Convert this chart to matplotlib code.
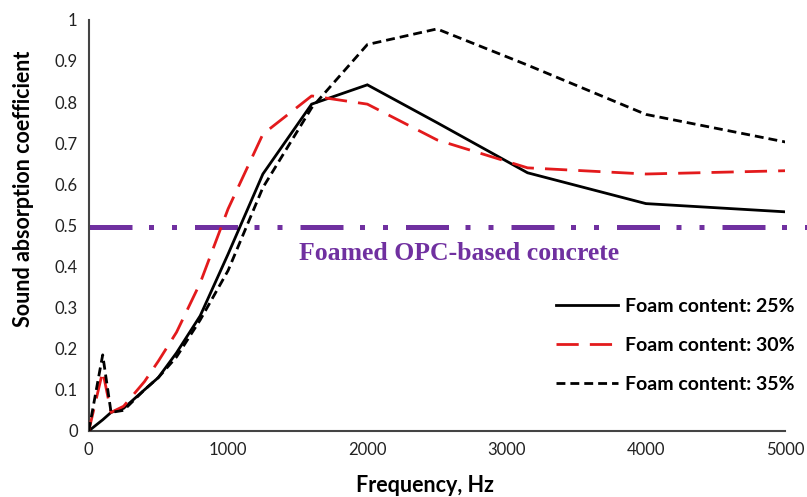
import matplotlib
matplotlib.use("Agg")
import matplotlib.pyplot as plt

freq = [0, 100, 160, 250, 400, 500, 630, 800, 1000, 1250, 1600, 2000, 2500, 3150, 4000, 5000]
foam25 = [0.0, 0.027, 0.045, 0.055, 0.10, 0.13, 0.19, 0.28, 0.43, 0.625, 0.795, 0.842, 0.75, 0.628, 0.553, 0.533]
foam30 = [0.0, 0.145, 0.045, 0.06, 0.12, 0.17, 0.24, 0.36, 0.54, 0.722, 0.815, 0.795, 0.708, 0.64, 0.625, 0.633]
foam35 = [0.0, 0.185, 0.045, 0.05, 0.10, 0.13, 0.18, 0.27, 0.39, 0.592, 0.786, 0.94, 0.978, 0.89, 0.77, 0.703]
opc_ref = 0.495

labels = ["Foam content: 25%", "Foam content: 30%", "Foam content: 35%"]
xticks = [0, 1000, 2000, 3000, 4000, 5000]
yticks = [0, 0.1, 0.2, 0.3, 0.4, 0.5, 0.6, 0.7, 0.8, 0.9, 1]
ytick_labels = ["0", "0.1", "0.2", "0.3", "0.4", "0.5", "0.6", "0.7", "0.8", "0.9", "1"]

sans = ["Lato", "DejaVu Sans"]

fig = plt.figure(figsize=(8.07, 4.97), dpi=100)
ax = fig.add_axes([0.110, 0.133, 0.863, 0.827])

purple = "#7030A0"
lw_p = 3.6
ax.plot([0, 5160], [opc_ref, opc_ref], color=purple, lw=lw_p,
        linestyle=(0, (8.6, 3.3, 1.0, 3.6, 1.0, 3.6)), solid_capstyle="butt",
        dash_capstyle="butt", clip_on=False, zorder=2)
ax.text(2660, 0.416, "Foamed OPC-based concrete", color=purple, fontsize=18.5,
        fontweight="bold", family=["Liberation Serif", "DejaVu Serif"],
        ha="center", va="baseline")

l1, = ax.plot(freq, foam25, color="black", lw=2.0, solid_joinstyle="miter", zorder=3)
l2, = ax.plot(freq, foam30, color="#e31a1c", lw=2.0, linestyle=(0, (8, 4)), zorder=3)
l3, = ax.plot(freq, foam35, color="black", lw=2.0, linestyle=(0, (3.2, 1.8)), zorder=4)

ax.set_xlim(0, 5000)
ax.set_ylim(0, 1)
ax.set_xticks(xticks)
ax.set_xticklabels([str(v) for v in xticks], family=sans, fontsize=12)
ax.set_yticks(yticks)
ax.set_yticklabels(ytick_labels, family=sans, fontsize=12)
ax.tick_params(length=0, pad=8, colors="#222222")

for s in ["top", "right"]:
    ax.spines[s].set_visible(False)
for s in ["left", "bottom"]:
    ax.spines[s].set_color("#444444")
    ax.spines[s].set_linewidth(1.5)

ax.set_xlabel("Frequency, Hz", family=sans, fontsize=15.5, fontweight="bold")
ax.xaxis.set_label_coords(0.483, -0.108)
ax.set_ylabel("Sound absorption coefficient", family=sans, fontsize=15.5, fontweight="bold")
ax.yaxis.set_label_coords(-0.078, 0.59)

leg = fig.legend([l1, l2, l3], labels, loc="upper left",
                 bbox_to_anchor=(556 / 807, 1 - 298 / 497),
                 frameon=False, handlelength=3.2, handletextpad=0.36, labelspacing=1.12,
                 borderpad=0, borderaxespad=0,
                 prop={"family": sans, "weight": "bold", "size": 14})

fig.savefig("out.png", dpi=100)
